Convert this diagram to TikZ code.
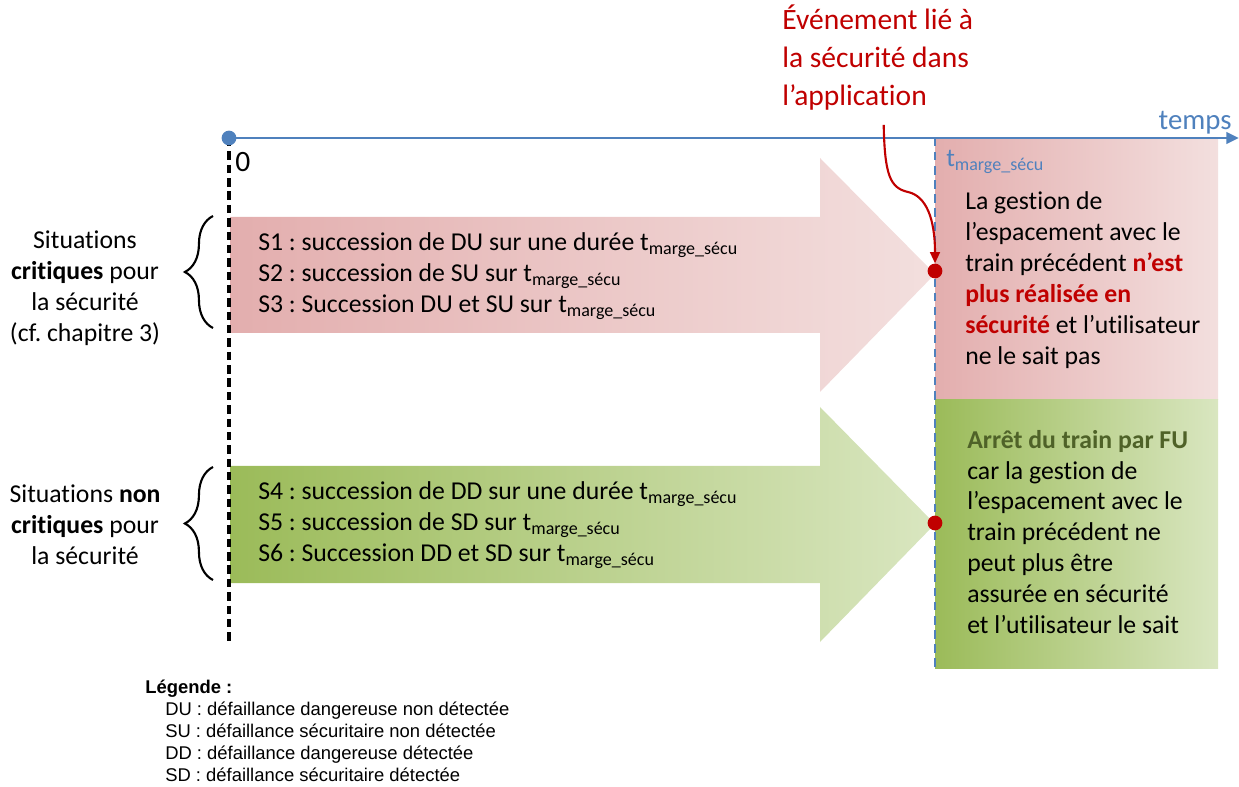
\documentclass[tikz,border=0pt]{standalone}
\usepackage{fontspec}
\setmainfont{Carlito}[Ligatures=NoCommon]
\newfontfamily\legendfont{Liberation Sans}
\usetikzlibrary{arrows.meta,decorations.pathreplacing}
\definecolor{axisblue}{HTML}{4F81BD}
\definecolor{alertred}{HTML}{C00000}
\definecolor{critdark}{HTML}{E3AEAE}
\definecolor{critlight}{HTML}{F3DFDE}
\definecolor{okdark}{HTML}{9BBB59}
\definecolor{oklight}{HTML}{D9E6C0}
\definecolor{okolive}{HTML}{4F6228}
\newcommand{\tmarge}{t\textsubscript{marge\_sécu}}
\frenchspacing
\begin{document}
\begin{tikzpicture}[x=0.025cm,y=-0.025cm,
  body/.style={font=\fontsize{18.3}{22}\selectfont,align=left,inner sep=0pt,anchor=west},
  side/.style={font=\fontsize{18.3}{22}\selectfont,align=center,inner sep=0pt},
  legtext/.style={font=\legendfont\fontsize{13.1}{15.6}\selectfont,align=left,inner sep=0pt,anchor=west},
  evdot/.style={circle,fill=alertred,inner sep=0pt,minimum size=10.5pt},
  bracket/.style={decorate,decoration={brace,amplitude=20pt},line width=1.5pt}]
\useasboundingbox (0,0) rectangle (1239,787);
% boites de droite
\shade[left color=critdark,right color=critlight] (935,140) rectangle (1218,400);
\shade[left color=okdark,right color=oklight] (935,400) rectangle (1218,668);
% grandes fleches
\shade[left color=critdark,right color=critlight] (230,217) -- (820,217) -- (820,158) -- (935,274) -- (820,392) -- (820,333) -- (230,333) -- cycle;
\shade[left color=okdark,right color=oklight] (230,466) -- (820,466) -- (820,407) -- (935,524) -- (820,642) -- (820,583) -- (230,583) -- cycle;
% axe du temps
\coordinate (origin) at (229,138);
\coordinate (tend) at (1239,138);
\coordinate (zbot) at (229,642);
\coordinate (tmtop) at (935,138);
\coordinate (tmbot) at (935,668);
\draw[line width=2.3pt,dash pattern=on 6pt off 3.5pt] (origin) -- (zbot);
\draw[axisblue,line width=2pt,dash pattern=on 6pt off 4pt] (tmtop) -- (tmbot);
\draw[axisblue,line width=2.1pt,-{Triangle[length=9pt,width=8pt]}] (origin) -- (tend);
\node[circle,fill=axisblue,inner sep=0pt,minimum size=10.5pt] (zerodot) at (origin) {};
\node[font=\fontsize{21}{25}\selectfont,anchor=west,inner sep=0pt] (zero) at (235,162) {0};
\node[font=\fontsize{20.5}{25}\selectfont,text=axisblue,anchor=east,inner sep=0pt] (tlabel) at (1232,123) {temps};
\node[body,text=axisblue] (tmlabel) at (946,162) {\tmarge};
% evenements
\node[evdot] (evcrit) at (935,271) {};
\node[evdot] (evok) at (935,523) {};
\node[font=\fontsize{21}{27}\selectfont,text=alertred,align=left,inner sep=0pt,anchor=west] (evt) at (782,58) {Événement lié à\\la sécurité dans\\l’application};
\coordinate (bend) at (908,192);
\draw[alertred,line width=1.5pt,-{Triangle[length=8pt,width=7pt]}] ([xshift=0.15cm,yshift=-0.35cm]evt.south) .. controls +(1,50) and +(-18,-4) .. (bend) .. controls +(18,4) and +(0,-45) .. (evcrit.north);
% textes des fleches
\node[body] (crittxt) at (258,276) {S1 : succession de DU sur une durée \tmarge\\S2 : succession de SU sur \tmarge\\S3 : Succession DU et SU sur \tmarge};
\node[body] (oktxt) at (258,525) {S4 : succession de DD sur une durée \tmarge\\S5 : succession de SD sur \tmarge\\S6 : Succession DD et SD sur \tmarge};
% textes des boites
\node[body] (critres) at (965,280) {La gestion de\\l’espacement avec le\\train précédent \textcolor{alertred}{\textbf{n’est}}\\\textcolor{alertred}{\textbf{plus réalisée en}}\\\textcolor{alertred}{\textbf{sécurité}} et l’utilisateur\\ne le sait pas};
\node[body] (okres) at (967,532) {\textcolor{okolive}{\textbf{Arrêt du train par FU}}\\car la gestion de\\l’espacement avec le\\train précédent ne\\peut plus être\\assurée en sécurité\\et l’utilisateur le sait};
% accolades
\draw[bracket] (213,328) -- (213,216);
\draw[bracket] (213,580) -- (213,467);
\node[side] (critside) at (85,288) {Situations\\\textbf{critiques} pour\\la sécurité\\(cf. chapitre 3)};
\node[side] (okside) at (85,525) {Situations \textbf{non}\\\textbf{critiques} pour\\la sécurité};
% legende
\node[legtext,font=\legendfont\fontsize{13.1}{15.6}\selectfont\bfseries] (legtitle) at (145,689) {Légende :};
\node[legtext] (legitems) at (165,742) {DU : défaillance dangereuse non détectée\\SU : défaillance sécuritaire non détectée\\DD : défaillance dangereuse détectée\\SD : défaillance sécuritaire détectée};
\end{tikzpicture}
\end{document}
